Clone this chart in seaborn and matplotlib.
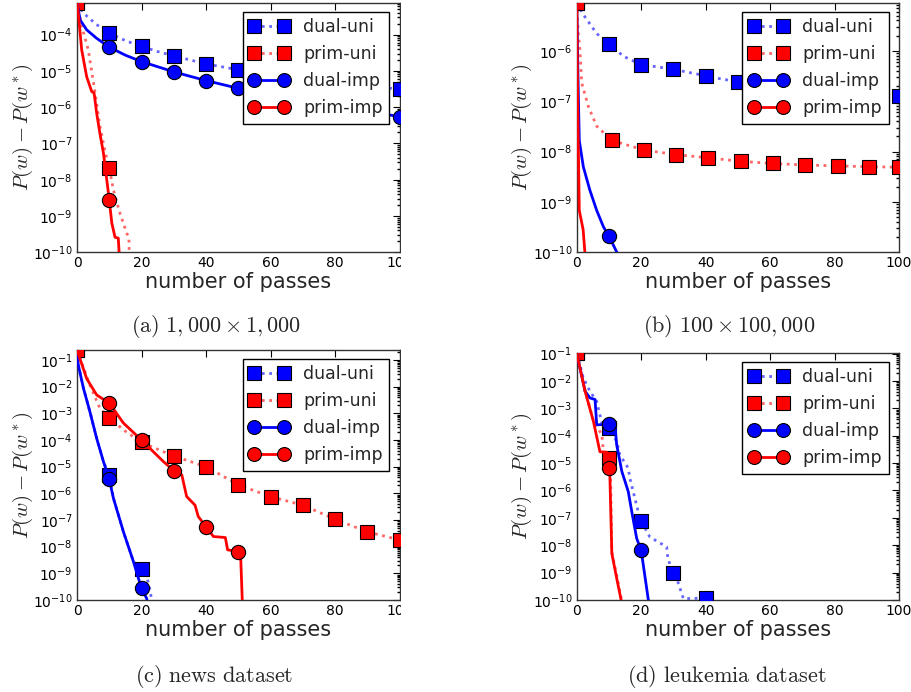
import numpy as np
import matplotlib
matplotlib.use("Agg")
import matplotlib.pyplot as plt
from matplotlib.lines import Line2D
from matplotlib.patches import Rectangle
from matplotlib.ticker import LogLocator, NullFormatter
import seaborn as sns

# ----------------------------
# Data (number of passes vs. P(w) - P(w*))
# ----------------------------
IMP_MARK_X = [10, 20, 30, 40, 50, 60, 70, 80, 90, 100]
UNI_MARK_X = [0, 10, 20, 30, 40, 50, 60, 70, 80, 90, 100]

# (a) 1,000 x 1,000
A_TOP = 7.4e-4
A_DU_X = [0, 2, 6, 10, 15, 20, 25, 30, 35, 40, 50, 60, 70, 80, 90, 100]
A_DU_Y = [7.4e-4, 3.9e-4, 1.9e-4, 1.1e-4, 6.8e-5, 4.7e-5, 3.4e-5, 2.6e-5, 2.0e-5,
          1.55e-5, 1.07e-5, 8.0e-6, 6.2e-6, 4.9e-6, 3.9e-6, 3.1e-6]
A_DU_M = [7.4e-4, 1.1e-4, 4.7e-5, 2.6e-5, 1.55e-5, 1.07e-5, 8.0e-6, 6.2e-6, 4.9e-6, 3.9e-6, 3.1e-6]
A_PU_X = [0, 1.5, 3.5, 5.6, 7.1, 8.7, 10, 11.3, 13.3, 15.4, 16.1, 16.3]
A_PU_Y = [7.4e-4, 1.66e-4, 3.8e-5, 2.5e-6, 3e-7, 6e-8, 2.1e-8, 5.2e-9, 1.2e-9, 3.4e-10, 2.5e-10, 3e-11]
A_PU_M = [7.4e-4, 2.1e-8]
A_DI_X = [0, 1, 3, 6, 10, 15, 20, 25, 30, 35, 40, 50, 60, 70, 80, 90, 100]
A_DI_Y = [7.4e-4, 2.5e-4, 1.35e-4, 8e-5, 4.5e-5, 2.7e-5, 1.8e-5, 1.3e-5, 9.4e-6, 7.1e-6,
          5.4e-6, 3.3e-6, 2.2e-6, 1.5e-6, 1.05e-6, 7.6e-7, 5.5e-7]
A_DI_M = [4.5e-5, 1.8e-5, 9.4e-6, 5.4e-6, 3.3e-6, 2.2e-6, 1.5e-6, 1.05e-6, 7.6e-7, 5.5e-7]
A_PI_X = [0, 0.4, 1.45, 3, 4.55, 5.3, 6.1, 7.1, 8.2, 10, 10.8, 11.8, 12.8, 13.4]
A_PI_Y = [7.4e-4, 3.9e-4, 3.8e-5, 6.9e-6, 2.7e-6, 2.45e-6, 6.8e-7, 1.9e-7, 5.4e-8,
          2.8e-9, 6.3e-10, 2.6e-10, 2.45e-10, 3e-11]
A_PI_M = [2.8e-9]

# (b) 100 x 100,000
B_TOP = 8.9e-6
B_DU_X = [0, 2.1, 6.2, 10, 14.5, 20, 25, 30, 35, 40, 45, 50, 60, 70, 80, 90, 100]
B_DU_Y = [8.9e-6, 5.2e-6, 2.2e-6, 1.38e-6, 7.8e-7, 5.3e-7, 4.8e-7, 4.3e-7, 3.7e-7,
          3.2e-7, 2.75e-7, 2.45e-7, 2.05e-7, 1.8e-7, 1.6e-7, 1.42e-7, 1.27e-7]
B_DU_M = [8.9e-6, 1.38e-6, 5.3e-7, 4.3e-7, 3.2e-7, 2.45e-7, 2.05e-7, 1.8e-7, 1.6e-7, 1.42e-7, 1.27e-7]
B_PU_X = [0, 0.5, 1.0, 1.55, 3.6, 6.2, 10.9, 20.9, 30.8, 40.8, 50.9, 60.8, 70.9, 81, 90.8, 100]
B_PU_Y = [8.9e-6, 2.2e-6, 1.05e-6, 2.3e-7, 7.9e-8, 3.2e-8, 1.66e-8, 1.07e-8, 8.7e-9,
          7.5e-9, 6.4e-9, 5.8e-9, 5.4e-9, 5.2e-9, 5.0e-9, 4.9e-9]
B_PU_MX = [0, 10.9, 20.9, 30.8, 40.8, 50.9, 60.8, 70.9, 81, 90.8, 100]
B_PU_M = [8.9e-6, 1.66e-8, 1.07e-8, 8.7e-9, 7.5e-9, 6.4e-9, 5.8e-9, 5.4e-9, 5.2e-9, 5.0e-9, 4.9e-9]
B_DI_X = [0, 0.4, 0.8, 2.05, 4.1, 6.2, 8.3, 10, 13.2]
B_DI_Y = [8.9e-6, 3e-7, 1.66e-8, 5e-9, 1.7e-9, 6.8e-10, 3.2e-10, 2.1e-10, 8e-11]
B_DI_M = [2.1e-10]
B_PI_X = [0, 0.3, 0.8, 2.0, 2.9]
B_PI_Y = [8.9e-6, 1e-7, 6.8e-10, 2.8e-10, 5e-11]
B_PI_M = []

# (c) news dataset
C_TOP = 0.237
C_DU_X = [0, 0.4, 2, 4, 6.1, 8.2, 10, 11.3, 14.4, 17.5, 20, 21.3, 22, 22.8, 23.3]
C_DU_Y = [0.237, 0.065, 8.7e-3, 1.15e-3, 1.15e-4, 1.55e-5, 4.9e-6, 6.5e-7, 3.6e-8,
          2.75e-9, 1.5e-9, 8e-10, 5e-10, 2e-10, 5e-11]
C_DU_M = [0.237, 4.9e-6, 1.5e-9]
C_PU_X = [0, 4, 7.1, 10, 14.4, 20, 30, 40, 50, 60, 70, 80, 90, 100]
C_PU_Y = [0.237, 1.15e-2, 1.55e-3, 6.9e-4, 2.4e-4, 8.1e-5, 2.5e-5, 1.0e-5, 2.1e-6,
          7.5e-7, 3.6e-7, 1.07e-7, 3.6e-8, 1.8e-8]
C_PU_M = [0.237, 6.9e-4, 8.1e-5, 2.5e-5, 1.0e-5, 2.1e-6, 7.5e-7, 3.6e-7, 1.07e-7, 3.6e-8, 1.8e-8]
C_DI_X = [0, 0.4, 2, 4, 6.1, 8.2, 10, 11.3, 14.4, 17.5, 20, 21.6, 22]
C_DI_Y = [0.237, 0.065, 8.7e-3, 1.15e-3, 1.15e-4, 1.55e-5, 3.4e-6, 6.5e-7, 3.6e-8,
          2.75e-9, 2.7e-10, 1.15e-10, 6e-11]
C_DI_M = [3.4e-6, 2.7e-10]
C_PI_X = [0, 3, 6.1, 10, 14.4, 20, 23.7, 26.8, 30, 32.5, 34, 36.6, 37.6, 40, 42.3,
          46, 46.7, 50, 50.7, 51.4]
C_PI_Y = [0.237, 2e-2, 4.9e-3, 2.4e-3, 4.3e-4, 1e-4, 3.6e-5, 1.55e-5, 7.1e-6, 4.9e-6,
          7.6e-7, 3.6e-7, 1.35e-7, 5.6e-8, 2.4e-8, 2.2e-8, 7.6e-9, 6.5e-9, 6.3e-9, 3e-11]
C_PI_M = [2.4e-3, 1e-4, 7.1e-6, 5.6e-8, 6.5e-9]

# (d) leukemia dataset
D_TOP = 0.105
D_DU_X = [0, 2.05, 4.1, 6.2, 7.8, 10, 12.4, 13.4, 16, 16.5, 19.1, 20, 22.7, 27.9,
          28.3, 30, 31, 33.1, 40, 41]
D_DU_Y = [0.105, 1.3e-2, 4.2e-3, 1.8e-3, 2.9e-4, 1.9e-4, 6.2e-5, 2e-5, 6.5e-6, 2.8e-6,
          1.66e-7, 7.6e-8, 2e-8, 8.7e-9, 3.2e-9, 9.3e-10, 6.3e-10, 1.12e-10, 1.17e-10, 3e-11]
D_DU_M = [0.105, 1.9e-4, 7.6e-8, 9.3e-10, 1.17e-10]
D_PU_X = [0, 2.6, 5.2, 7.8, 8.3, 10, 10.5, 10.9, 12.4, 14.4]
D_PU_Y = [0.105, 4.5e-3, 3.5e-4, 1.07e-4, 2.6e-5, 1.5e-5, 5e-6, 5.8e-9, 8e-10, 5e-11]
D_PU_M = [0.105, 1.5e-5]
D_DI_X = [0, 2.6, 4.1, 5.7, 6.2, 10, 11.9, 12.4, 14, 16, 17.1, 18.6, 20, 22.6]
D_DI_Y = [0.105, 4.2e-3, 2.4e-3, 2.1e-3, 2.5e-4, 2.6e-4, 2.2e-4, 4.7e-5, 5e-6, 9.1e-7,
          1.66e-7, 1.8e-8, 6.6e-9, 5e-11]
D_DI_M = [2.6e-4, 6.6e-9]
D_PI_X = [0, 2.6, 5.2, 7.2, 9.3, 10, 10.3, 10.9, 12.4, 14.3]
D_PI_Y = [0.105, 4.2e-3, 3.3e-4, 2.6e-5, 2.5e-5, 6.9e-6, 3.2e-6, 5e-9, 6.3e-10, 5e-11]
D_PI_M = [6.9e-6]

LABELS = ["dual-uni", "prim-uni", "dual-imp", "prim-imp"]
CAPTIONS = [r"$\mathrm{(a)}\ 1,000\times 1,000$", r"$\mathrm{(b)}\ 100\times 100,000$",
            r"$\mathrm{(c)\ news\ dataset}$", r"$\mathrm{(d)\ leukemia\ dataset}$"]

# ----------------------------
# Style
# ----------------------------
sns.set_theme(style="white")
plt.rcParams.update({
    "mathtext.fontset": "cm",
    "xtick.direction": "in", "ytick.direction": "in",
    "xtick.top": True, "ytick.right": True,
    "xtick.major.size": 5, "ytick.major.size": 5,
    "ytick.minor.size": 2.5, "xtick.minor.size": 2.5,
    "xtick.major.width": 0.8, "ytick.major.width": 0.8,
    "axes.edgecolor": "#333333", "axes.linewidth": 1.0,
    "xtick.color": "black", "ytick.color": "black",
})

BLUE, RED = (0.0, 0.0, 1.0), (1.0, 0.0, 0.0)
# dotted (uniform sampling) lines are drawn lighter, markers stay solid
STYLES = [(BLUE, ":", "s", 0.6), (RED, ":", "s", 0.6), (BLUE, "-", "o", 1.0), (RED, "-", "o", 1.0)]

fig = plt.figure(figsize=(9.11, 6.92), dpi=100)
W, H = 911.0, 692.0
boxes = [(77, 3, 322.5, 249.3), (576.7, 3, 322.3, 249.3),
         (77, 350, 322.5, 250), (576.7, 353, 322.3, 247)]
axes = [fig.add_axes([l / W, 1 - (t + h) / H, w / W, h / H]) for l, t, w, h in boxes]

panels = [
    (A_TOP, [(A_DU_X, A_DU_Y, UNI_MARK_X, A_DU_M), (A_PU_X, A_PU_Y, UNI_MARK_X, A_PU_M),
             (A_DI_X, A_DI_Y, IMP_MARK_X, A_DI_M), (A_PI_X, A_PI_Y, IMP_MARK_X, A_PI_M)]),
    (B_TOP, [(B_DU_X, B_DU_Y, UNI_MARK_X, B_DU_M), (B_PU_X, B_PU_Y, B_PU_MX, B_PU_M),
             (B_DI_X, B_DI_Y, IMP_MARK_X, B_DI_M), (B_PI_X, B_PI_Y, IMP_MARK_X, B_PI_M)]),
    (C_TOP, [(C_DU_X, C_DU_Y, UNI_MARK_X, C_DU_M), (C_PU_X, C_PU_Y, UNI_MARK_X, C_PU_M),
             (C_DI_X, C_DI_Y, IMP_MARK_X, C_DI_M), (C_PI_X, C_PI_Y, IMP_MARK_X, C_PI_M)]),
    (D_TOP, [(D_DU_X, D_DU_Y, UNI_MARK_X, D_DU_M), (D_PU_X, D_PU_Y, UNI_MARK_X, D_PU_M),
             (D_DI_X, D_DI_Y, IMP_MARK_X, D_DI_M), (D_PI_X, D_PI_Y, IMP_MARK_X, D_PI_M)]),
]

for ax, (top, curves) in zip(axes, panels):
    ax.set_yscale("log")
    for k, ((lx, ly, mx, my), (col, ls, mk, a)) in enumerate(zip(curves, STYLES)):
        sns.lineplot(x=lx, y=ly, ax=ax, color=col + (a,), linestyle=ls, linewidth=2,
                     estimator=None, sort=False, legend=False, zorder=2 + 2 * k)
        if len(my):
            sns.scatterplot(x=mx[:len(my)], y=my, ax=ax, marker=mk, s=105, color=col,
                            edgecolor="black", linewidth=0.8, legend=False, zorder=3 + 2 * k)
    ax.set_xlim(0, 100)
    ax.set_ylim(1e-10, top)
    ax.set_xticks([0, 20, 40, 60, 80, 100])
    ax.yaxis.set_major_locator(LogLocator(base=10, numticks=20))
    ax.yaxis.set_minor_locator(LogLocator(base=10, subs=np.arange(2, 10), numticks=200))
    ax.yaxis.set_minor_formatter(NullFormatter())
    ax.tick_params(labelsize=10, pad=3)
    ax.set_xlabel("number of passes", fontsize=15, labelpad=1)
    ax.set_ylabel(r"$P(w) - P(w^*)$", fontsize=15, labelpad=-1)
    handles = [Line2D([], [], color=c + (a,), linestyle=ls, linewidth=2, marker=mk,
                      markersize=10, markerfacecolor=c, markeredgecolor="black",
                      markeredgewidth=0.8)
               for c, ls, mk, a in STYLES]
    leg = ax.legend(handles, LABELS, loc="upper right", bbox_to_anchor=(0.968, 0.965),
                    borderaxespad=0, numpoints=2, fontsize=12.5, handlelength=2.3,
                    handletextpad=0.8, labelspacing=0.52, borderpad=0.38,
                    fancybox=False, framealpha=1, edgecolor="black")
    leg.get_frame().set_linewidth(1.0)
    leg.set_zorder(20)

# the left panels were cropped right at the axes edge
for y0, y1 in [(0, 300), (340, 640)]:
    fig.add_artist(Rectangle((401 / W, 1 - y1 / H), 40 / W, (y1 - y0) / H,
                             transform=fig.transFigure, facecolor="white",
                             edgecolor="none", zorder=30))

cap_pos = [(216, 326), (729, 326), (214, 676), (727, 676)]
for (cx, cy), txt in zip(cap_pos, CAPTIONS):
    fig.text(cx / W, 1 - cy / H, txt, ha="center", va="center", fontsize=16)

fig.savefig("out.png", dpi=100)
